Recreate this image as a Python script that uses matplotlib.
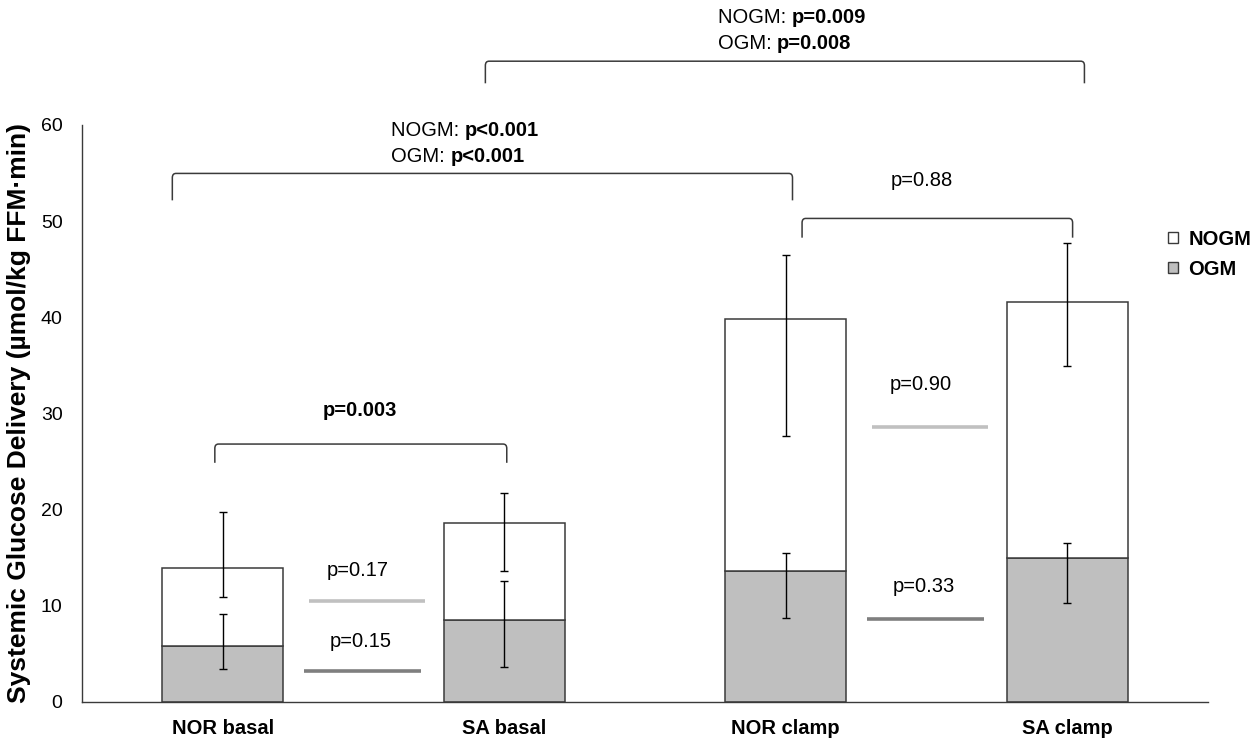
"""Stacked bars of systemic glucose delivery (OGM / NOGM) with p-value brackets."""
import matplotlib
matplotlib.use("Agg")
import matplotlib.pyplot as plt
import numpy as np
from matplotlib.patches import Patch, PathPatch
from matplotlib.path import Path

plt.rcParams["font.family"] = ["Liberation Sans", "DejaVu Sans"]

# data
categories = ["NOR basal", "SA basal", "NOR clamp", "SA clamp"]
ogm = np.array([5.8, 8.5, 13.6, 15.0])
total = np.array([13.9, 18.6, 39.8, 41.6])
nogm = total - ogm
# error bars (lower / upper), drawn at the top of each stack level
ogm_err_lo = [2.4, 4.9, 4.9, 4.7]
ogm_err_hi = [3.4, 4.1, 1.9, 1.5]
total_err_lo = [3.0, 5.0, 12.1, 6.7]
total_err_hi = [5.9, 3.1, 6.7, 6.1]

series_names = ["NOGM", "OGM"]
pair_p_nogm = ["p=0.17", "p=0.90"]
pair_p_ogm = ["p=0.15", "p=0.33"]

OGM_COLOR = "#bfbfbf"
EDGE = "#3a3a3a"
LIGHT_LINE = "#c0c0c0"
DARK_LINE = "#7f7f7f"
FS = 14.5

fig = plt.figure(figsize=(12.59, 7.46), dpi=100)
ax = fig.add_axes([0.0651, 0.059, 0.8944, 0.7735])

x = np.arange(len(categories))
w = 0.43
ax.bar(x, ogm, width=w, color=OGM_COLOR, edgecolor=EDGE, linewidth=1.1, zorder=2)
ax.bar(x, nogm, width=w, bottom=ogm, color="white", edgecolor=EDGE, linewidth=1.1, zorder=2)

err_kw = dict(fmt="none", ecolor="black", elinewidth=1.0, capsize=3, capthick=1.0, zorder=3)
ax.errorbar(x, total, yerr=[total_err_lo, total_err_hi], **err_kw)
ax.errorbar(x, ogm, yerr=[ogm_err_lo, ogm_err_hi], **err_kw)

# horizontal comparison lines between the basal and clamp pairs
for i, left in enumerate([0, 2]):
    ax.hlines(28.59 if left else 10.53, left + 0.305, left + 0.72, colors=LIGHT_LINE, lw=2.6)
    ax.hlines(8.63 if left else 3.22, left + 0.29, left + 0.705, colors=DARK_LINE, lw=2.6)
    ax.text(left + 0.48, 33.06 if left else 13.7, pair_p_nogm[i], ha="center", va="center", fontsize=FS)
    ax.text(left + 0.49, 12.06 if left else 6.27, pair_p_ogm[i], ha="center", va="center", fontsize=FS)


def bracket(x1, x2, y, leg, rx=0.013, ry=0.45):
    verts = [(x1, y - leg), (x1, y - ry), (x1, y), (x1 + rx, y),
             (x2 - rx, y), (x2, y), (x2, y - ry), (x2, y - leg)]
    codes = [Path.MOVETO, Path.LINETO, Path.CURVE3, Path.CURVE3,
             Path.LINETO, Path.CURVE3, Path.CURVE3, Path.LINETO]
    ax.add_patch(PathPatch(Path(verts, codes), fill=False, edgecolor=EDGE,
                           linewidth=1.1, clip_on=False, zorder=4))


def two_part(xp, yp, plain, bold):
    t = ax.text(xp, yp, plain, ha="left", va="center", fontsize=FS, clip_on=False)
    ax.annotate(bold, xy=(1, 0), xycoords=t, ha="left", va="bottom",
                fontsize=FS, fontweight="bold", annotation_clip=False)


# brackets: (x1, x2, y, leg)
bracket(-0.028, 1.009, 26.82, 1.95)
bracket(-0.179, 2.024, 54.96, 2.8)
bracket(2.058, 3.019, 50.28, 2.0)
bracket(0.933, 3.061, 66.63, 2.3)

ax.text(0.488, 30.3, "p=0.003", ha="center", va="center", fontsize=FS, fontweight="bold")
ax.text(2.483, 54.26, "p=0.88", ha="center", va="center", fontsize=FS)
two_part(0.598, 59.46, "NOGM: ", "p<0.001")
two_part(0.598, 56.69, "OGM: ", "p<0.001")
two_part(1.758, 71.2, "NOGM: ", "p=0.009")
two_part(1.758, 68.5, "OGM: ", "p=0.008")

# axes styling
ax.set_xlim(-0.5, 3.5)
ax.set_ylim(0, 60)
ax.set_yticks(np.arange(0, 61, 10))
ax.set_xticks(x)
ax.set_xticklabels(categories, fontsize=FS, fontweight="bold")
ax.tick_params(axis="y", length=0, pad=14, labelsize=14)
ax.tick_params(axis="x", length=0, pad=12)
for side in ["top", "right"]:
    ax.spines[side].set_visible(False)
for side in ["left", "bottom"]:
    ax.spines[side].set_color(EDGE)
    ax.spines[side].set_linewidth(1.0)

ax.set_ylabel("Systemic Glucose Delivery (\u00b5mol/kg FFM\u00b7min)", fontsize=19, fontweight="bold")
ax.yaxis.set_label_coords(-0.045, 0.5)

handles = [Patch(facecolor="white", edgecolor=EDGE, linewidth=1.0),
           Patch(facecolor=OGM_COLOR, edgecolor=EDGE, linewidth=1.0)]
ax.legend(handles, series_names, loc="center left", bbox_to_anchor=(0.9645, 0.776),
          frameon=False, borderpad=0, borderaxespad=0, handlelength=0.5,
          handleheight=0.5, handletextpad=0.5, labelspacing=0.55,
          prop={"size": FS, "weight": "bold"})

fig.savefig("out.png", dpi=100)
